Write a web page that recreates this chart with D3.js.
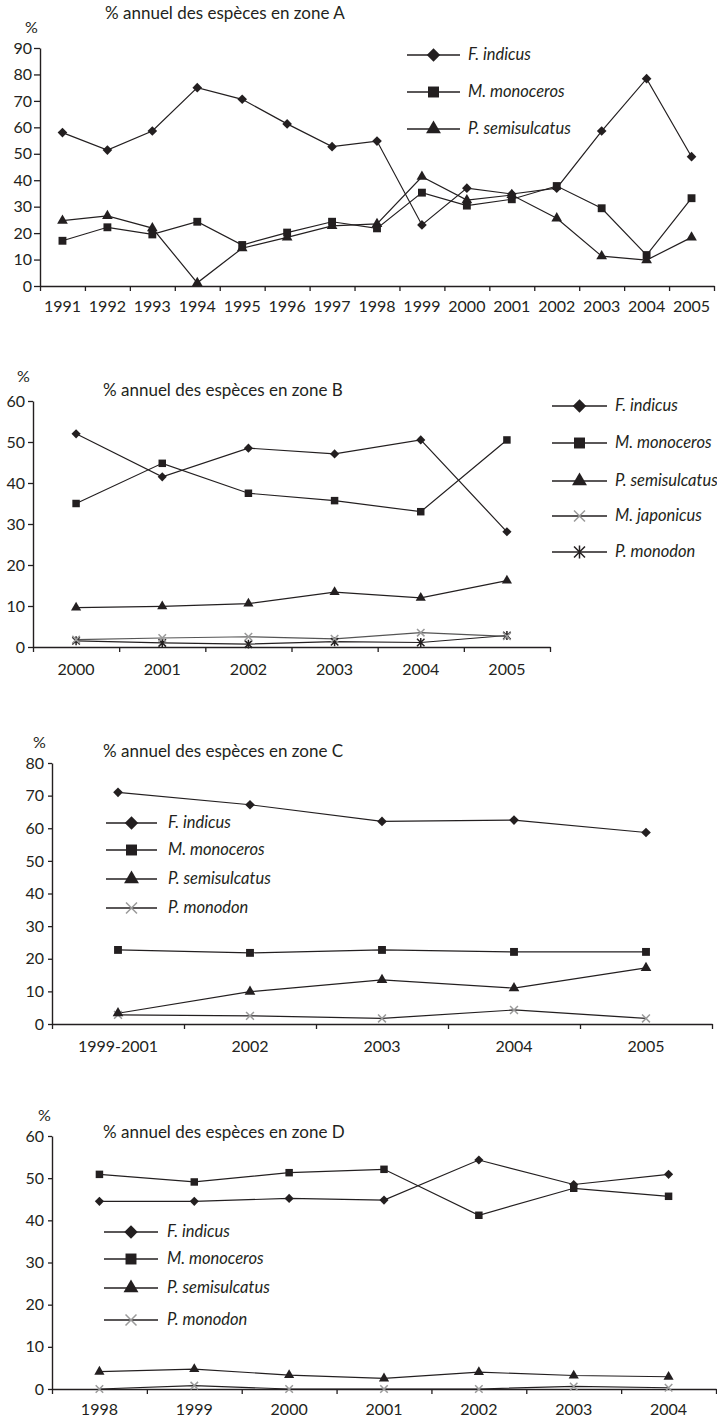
<!DOCTYPE html>
<html>
<head>
<meta charset="utf-8">
<script src="https://cdn.jsdelivr.net/npm/d3@7"></script>
<style>
body { margin: 0; background: #fff; }
svg text { font-family: Lato, "Open Sans", sans-serif; fill: #231f20; }
</style>
</head>
<body>
<script>
// ---- zone A
var yearsA = ["1991", "1992", "1993", "1994", "1995", "1996", "1997", "1998", "1999", "2000", "2001", "2002", "2003", "2004", "2005"];
var indicusA = [58.0, 51.4, 58.6, 75.0, 70.6, 61.3, 52.7, 54.8, 23.1, 37.0, 34.8, 37.0, 58.6, 78.4, 48.9];
var monocerosA = [17.1, 22.2, 19.5, 24.3, 15.5, 20.2, 24.3, 21.8, 35.3, 30.4, 32.8, 37.8, 29.4, 11.7, 33.2];
var semisulcatusA = [24.7, 26.5, 21.9, 1.2, 14.3, 18.4, 22.7, 23.5, 41.3, 32.5, 34.4, 25.6, 11.3, 9.8, 18.4];

// ---- zone B
var yearsB = ["2000", "2001", "2002", "2003", "2004", "2005"];
var indicusB = [52.0, 41.5, 48.5, 47.1, 50.5, 28.1];
var monocerosB = [35.0, 44.8, 37.5, 35.7, 33.0, 50.5];
var semisulcatusB = [9.6, 9.9, 10.6, 13.4, 12.0, 16.2];
var japonicusB = [1.8, 2.2, 2.5, 2.0, 3.5, 2.6];
var monodonB = [1.5, 1.0, 0.7, 1.3, 1.1, 2.8];

// ---- zone C
var yearsC = ["1999-2001", "2002", "2003", "2004", "2005"];
var indicusC = [71.0, 67.2, 62.1, 62.5, 58.7];
var monocerosC = [22.7, 21.8, 22.7, 22.1, 22.1];
var semisulcatusC = [3.3, 9.9, 13.5, 11.0, 17.2];
var monodonC = [2.8, 2.5, 1.7, 4.3, 1.7];

// ---- zone D
var yearsD = ["1998", "1999", "2000", "2001", "2002", "2003", "2004"];
var indicusD = [44.5, 44.5, 45.2, 44.8, 54.3, 48.5, 50.9];
var monocerosD = [50.9, 49.1, 51.3, 52.1, 41.2, 47.6, 45.7];
var semisulcatusD = [4.1, 4.7, 3.3, 2.5, 4.0, 3.2, 2.9];
var monodonD = [0, 0.8, 0, 0, 0, 0.6, 0.3];

var ink = "#231f20", grey = "#9a9a9a";

// stroke symbols
var symTimes = { draw: function(ctx, size) {
  var r = Math.sqrt(size) / 2;
  ctx.moveTo(-r, -r); ctx.lineTo(r, r);
  ctx.moveTo(-r, r); ctx.lineTo(r, -r);
}};
var symStar = { draw: function(ctx, size) {
  var r = Math.sqrt(size) / 2;
  ctx.moveTo(-r, -r); ctx.lineTo(r, r);
  ctx.moveTo(-r, r); ctx.lineTo(r, -r);
  ctx.moveTo(0, -r * 1.2); ctx.lineTo(0, r * 1.2);
}};

var markers = {
  diamond: { type: d3.symbolSquare, rot: 45, k: 0.75, fill: ink, stroke: "none" },
  square: { type: d3.symbolSquare, rot: 0, k: 1, fill: ink, stroke: "none" },
  triangle: { type: d3.symbolTriangle, rot: 0, k: 0.8, fill: ink, stroke: "none" },
  times: { type: symTimes, rot: 0, k: 1, fill: "none", stroke: grey },
  star: { type: symStar, rot: 0, k: 1, fill: "none", stroke: ink }
};

var charts = [
  { title: "% annuel des espèces en zone A", cats: yearsA, yMax: 90,
    series: [
      { name: "F. indicus", values: indicusA, mark: "diamond" },
      { name: "M. monoceros", values: monocerosA, mark: "square" },
      { name: "P. semisulcatus", values: semisulcatusA, mark: "triangle" }
    ],
    x0: 40, x1: 714, yTop: 48, yBot: 286, titleX: 105, titleY: 19, pctX: 25, pctY: 33,
    ytSize: 6, ytPad: 2, xtPad: 15, ms: 62,
    legend: { x0: 407, x1: 460, textX: 468, rows: [55, 92, 129] } },
  { title: "% annuel des espèces en zone B", cats: yearsB, yMax: 60,
    series: [
      { name: "F. indicus", values: indicusB, mark: "diamond" },
      { name: "M. monoceros", values: monocerosB, mark: "square" },
      { name: "P. semisulcatus", values: semisulcatusB, mark: "triangle" },
      { name: "M. japonicus", values: japonicusB, mark: "times", line: "#555" },
      { name: "P. monodon", values: monodonB, mark: "star" }
    ],
    x0: 33, x1: 550, yTop: 401, yBot: 647, titleX: 103, titleY: 396, pctX: 17, pctY: 382,
    ytSize: 5, ytPad: 3, xtPad: 17, ms: 56,
    legend: { x0: 552, x1: 607, textX: 615, rows: [406, 443, 481, 516, 552] } },
  { title: "% annuel des espèces en zone C", cats: yearsC, yMax: 80,
    series: [
      { name: "F. indicus", values: indicusC, mark: "diamond" },
      { name: "M. monoceros", values: monocerosC, mark: "square" },
      { name: "P. semisulcatus", values: semisulcatusC, mark: "triangle" },
      { name: "P. monodon", values: monodonC, mark: "times" }
    ],
    x0: 52, x1: 712, yTop: 763, yBot: 1024, titleX: 103, titleY: 757, pctX: 33, pctY: 748,
    ytSize: 4, ytPad: 4, xtPad: 17, ms: 62,
    legend: { x0: 106, x1: 157, textX: 168, rows: [823, 850, 879, 908] } },
  { title: "% annuel des espèces en zone D", cats: yearsD, yMax: 60,
    series: [
      { name: "F. indicus", values: indicusD, mark: "diamond" },
      { name: "M. monoceros", values: monocerosD, mark: "square" },
      { name: "P. semisulcatus", values: semisulcatusD, mark: "triangle" },
      { name: "P. monodon", values: monodonD, mark: "times" }
    ],
    x0: 52, x1: 716, yTop: 1136, yBot: 1389, titleX: 103, titleY: 1138, pctX: 38, pctY: 1121,
    ytSize: 4, ytPad: 4, xtPad: 15, ms: 56,
    legend: { x0: 104, x1: 158, textX: 167, rows: [1232, 1259, 1288, 1320] } }
];

var svg = d3.select("body").append("svg")
  .attr("width", 717)
  .attr("height", 1422);

svg.append("rect").attr("width", 717).attr("height", 1422).attr("fill", "#fff");

function drawMark(g, m, x, y, size) {
  var spec = markers[m];
  g.append("path")
    .attr("d", d3.symbol().type(spec.type).size(size * spec.k)())
    .attr("transform", "translate(" + x + "," + y + ") rotate(" + spec.rot + ")")
    .attr("fill", spec.fill)
    .attr("stroke", spec.stroke)
    .attr("stroke-width", spec.fill == "none" ? 1.5 : 0);
}

charts.forEach(function(c) {
  var g = svg.append("g");
  var x = d3.scaleBand().domain(c.cats).range([c.x0, c.x1]);
  var y = d3.scaleLinear().domain([0, c.yMax]).range([c.yBot, c.yTop]);

  // y axis
  var ya = g.append("g")
    .attr("transform", "translate(" + c.x0 + ",0)")
    .call(d3.axisLeft(y).tickValues(d3.range(0, c.yMax + 1, 10)).tickSize(c.ytSize).tickPadding(c.ytPad).tickSizeOuter(0));
  ya.select(".domain").attr("stroke", ink).attr("stroke-width", 1.4);
  ya.selectAll(".tick line").attr("stroke", ink).attr("stroke-width", 1.3);
  ya.selectAll("text").attr("font-size", 16).attr("fill", ink).style("font-family", null);

  // x axis labels (band centres)
  var xa = g.append("g")
    .attr("transform", "translate(0," + c.yBot + ")")
    .call(d3.axisBottom(x).tickSize(0).tickPadding(c.xtPad).tickSizeOuter(0));
  xa.select(".domain").attr("stroke", ink).attr("stroke-width", 1.6);
  xa.selectAll("text").attr("font-size", 16).attr("fill", ink).style("font-family", null);

  // x ticks at category boundaries
  var edges = d3.scaleLinear().domain([0, c.cats.length]).range([c.x0, c.x1]);
  var xe = g.append("g")
    .attr("transform", "translate(0," + c.yBot + ")")
    .call(d3.axisBottom(edges).tickValues(d3.range(c.cats.length + 1)).tickSize(5).tickFormat(""));
  xe.select(".domain").remove();
  xe.selectAll(".tick line").attr("stroke", ink).attr("stroke-width", 1.3);

  // titles
  g.append("text").attr("x", c.titleX).attr("y", c.titleY).attr("font-size", 17).text(c.title);
  g.append("text").attr("x", c.pctX).attr("y", c.pctY).attr("font-size", 16).text("%");

  var line = d3.line()
    .x(function(d, i) { return x(c.cats[i]) + x.bandwidth() / 2; })
    .y(function(d) { return y(d); });

  // series lines then markers, drawn in reverse so F. indicus sits on top
  c.series.slice().reverse().forEach(function(s) {
    g.append("path")
      .attr("d", line(s.values))
      .attr("fill", "none")
      .attr("stroke", s.line || ink)
      .attr("stroke-width", 1.2);
  });
  c.series.slice().reverse().forEach(function(s) {
    s.values.forEach(function(v, i) {
      drawMark(g, s.mark, x(c.cats[i]) + x.bandwidth() / 2, y(v), c.ms);
    });
  });

  // legend
  var L = c.legend;
  c.series.forEach(function(s, i) {
    var ry = L.rows[i];
    g.append("line")
      .attr("x1", L.x0).attr("x2", L.x1).attr("y1", ry).attr("y2", ry)
      .attr("stroke", ink).attr("stroke-width", 1.6);
    drawMark(g, s.mark, (L.x0 + L.x1) / 2, ry, 120);
    g.append("text")
      .attr("x", L.textX).attr("y", ry + 5)
      .attr("font-size", 16.5)
      .attr("font-style", "italic")
      .text(s.name);
  });
});
</script>
</body>
</html>
